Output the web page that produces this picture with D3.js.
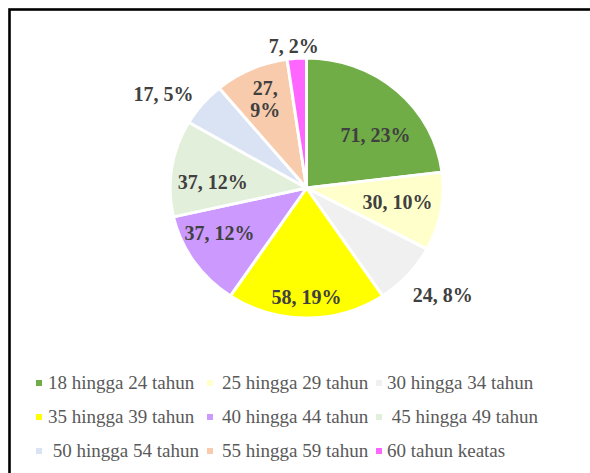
<!DOCTYPE html>
<html>
<head>
<meta charset="utf-8">
<script src="https://cdn.jsdelivr.net/npm/d3@7"></script>
<style>
  html, body { margin: 0; padding: 0; background: #fff; }
  svg { display: block; }
  text { font-family: "Liberation Serif", "Times New Roman", serif; }
</style>
</head>
<body>
<svg id="chart" width="590" height="473"></svg>
<script>
// Respondents by age group
const categories = [
  "18 hingga 24 tahun", "25 hingga 29 tahun", "30 hingga 34 tahun",
  "35 hingga 39 tahun", "40 hingga 44 tahun", " 45 hingga 49 tahun",
  " 50 hingga 54 tahun", "55 hingga 59 tahun", "60 tahun keatas"
];
const counts = [71, 30, 24, 58, 37, 37, 17, 27, 7];
const percentLabels = ["23%", "10%", "8%", "19%", "12%", "12%", "5%", "9%", "2%"];
const colors = [
  "#70ad47", "#ffffcc", "#f0f0f0", "#ffff00", "#cc99ff",
  "#e2efda", "#dae3f3", "#f8cbad", "#ff66ff"
];

// Label placement: angular nudge (degrees) from slice middle, and distance from centre
const labelShift = [11, -2, -4, 0, 7, -5, -7, -1, -1];
const labelDist = [87, 92, 173, 109, 98, 94, 171, 98, 143];
// Labels that wrap onto two lines
const labelWrap = [false, false, false, false, false, false, false, true, false];

const svg = d3.select("#chart");
const cx = 306.5, cy = 188, rx = 136.5, ry = 130;

// Frame
svg.append("rect")
  .attr("x", 9.5).attr("y", 9.5)
  .attr("width", 700).attr("height", 600)
  .attr("fill", "none").attr("stroke", "#000").attr("stroke-width", 2.6);

const pie = d3.pie().sort(null).value(d => d)(counts);
const arc = d3.arc().innerRadius(0).outerRadius(rx);

const g = svg.append("g")
  .attr("transform", `translate(${cx},${cy}) scale(1,${ry / rx})`);

g.selectAll("path").data(pie).join("path")
  .attr("d", arc)
  .attr("fill", (d, i) => colors[i])
  .attr("stroke", "#fff")
  .attr("stroke-width", 3)
  .attr("stroke-linejoin", "round");

// Value labels
const labels = svg.append("g")
  .attr("font-weight", "bold")
  .attr("font-size", 20)
  .attr("fill", "#404040")
  .attr("text-anchor", "middle");

pie.forEach((d, i) => {
  const mid = (d.startAngle + d.endAngle) / 2 + labelShift[i] * Math.PI / 180;
  const x = cx + labelDist[i] * Math.sin(mid);
  const y = cy - labelDist[i] * Math.cos(mid);
  const t = labels.append("text").attr("x", x).attr("y", y);
  if (labelWrap[i]) {
    t.append("tspan").attr("x", x).attr("dy", "-0.2em").text(`${counts[i]},`);
    t.append("tspan").attr("x", x).attr("dy", "1.1em").text(percentLabels[i]);
  } else {
    t.attr("dy", "0.35em").text(`${counts[i]}, ${percentLabels[i]}`);
  }
});

// Legend: three columns, three rows
const colMarkerX = [36, 207, 376];
const colTextX = [48, 222, 387];
const rowY = [383, 417, 451];

const legend = svg.append("g").attr("font-size", 19).attr("fill", "#595959");
categories.forEach((name, i) => {
  const c = i % 3, r = Math.floor(i / 3);
  legend.append("rect")
    .attr("x", colMarkerX[c]).attr("y", rowY[r] - 3)
    .attr("width", 6).attr("height", 6)
    .attr("fill", colors[i]);
  legend.append("text")
    .attr("x", colTextX[c]).attr("y", rowY[r] + 6)
    .attr("xml:space", "preserve")
    .style("white-space", "pre")
    .text(name);
});
</script>
</body>
</html>
